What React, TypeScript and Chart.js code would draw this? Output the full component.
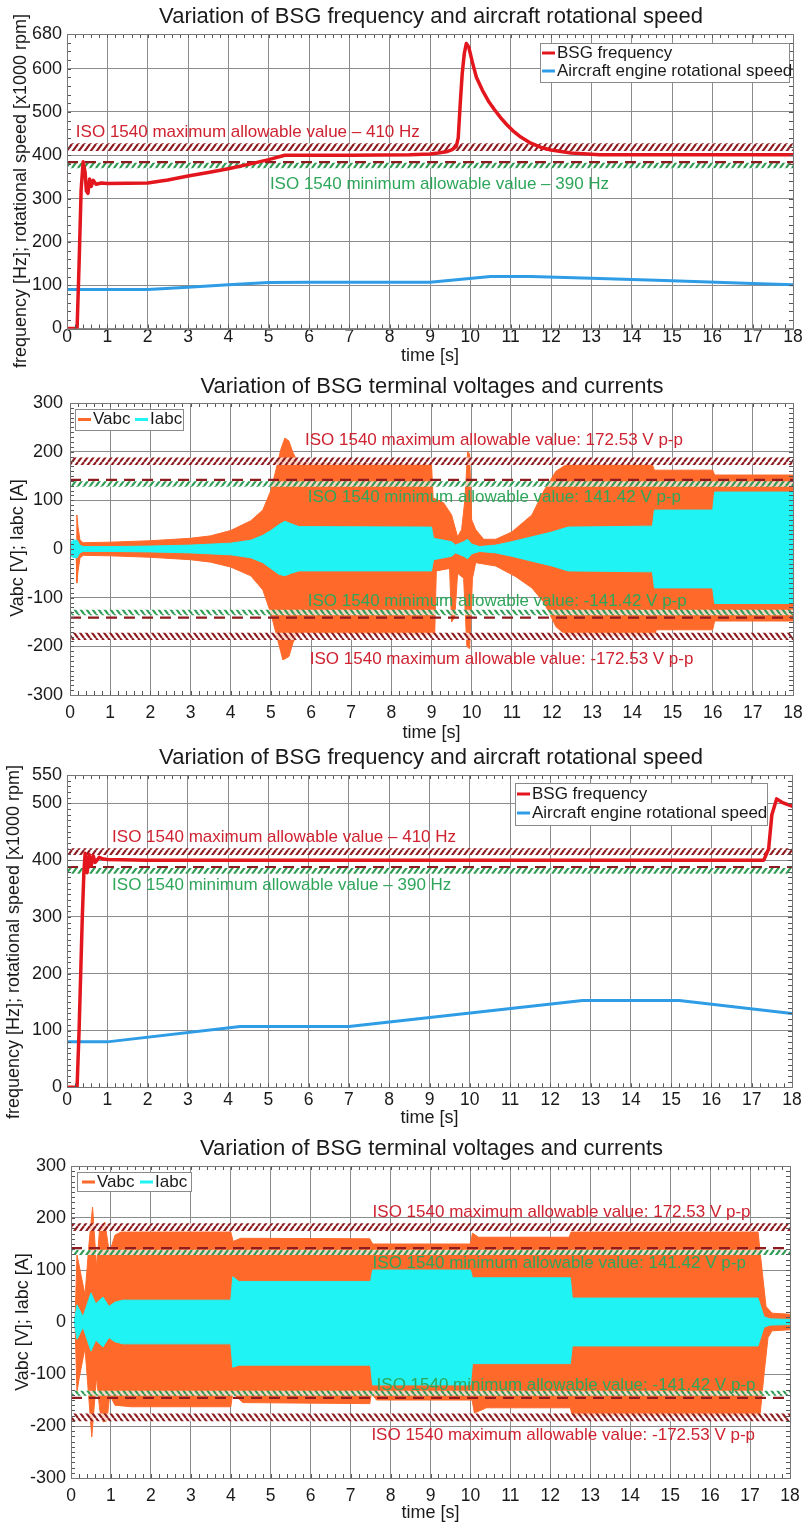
import React, { useEffect, useRef } from "react";
import { Chart, registerables } from "chart.js";

Chart.register(...registerables);

const FONT = '"Liberation Sans", Arial, Helvetica, sans-serif';
Chart.defaults.font.family = FONT;

// ---------- colours ----------
const RED = "#e4161d";
const BLUE = "#2e9de6";
const ORANGE = "#ff6a2b";
const CYAN = "#1ff3f3";
const DARK_RED = "#8e1b1f";
const HATCH_GREEN = "#2f9c55";
const NOTE_RED = "#cf2230";
const NOTE_GREEN = "#2ea65a";
const GRID = "#8c8c8c";
const TEXT = "#1a1a1a";

// ---------- shared text / axes ----------
const TIME_MIN = 0;
const TIME_MAX = 18;
const TIME_LABEL = "time [s]";
const TITLE_FREQ = "Variation of BSG frequency and aircraft rotational speed";
const TITLE_VOLT = "Variation of BSG terminal voltages and currents";
const YLABEL_FREQ = "frequency [Hz]; rotational speed [x1000 rpm]";
const YLABEL_VOLT = "Vabc [V]; Iabc [A]";
const LEGEND_FREQ = ["BSG frequency", "Aircraft engine rotational speed"];
const LEGEND_VOLT = ["Vabc", "Iabc"];
const NOTE_MAX_FREQ = "ISO 1540 maximum allowable value \u2013 410 Hz";
const NOTE_MIN_FREQ = "ISO 1540 minimum allowable value \u2013 390 Hz";
const NOTE_MAX_V = "ISO 1540 maximum allowable value: 172.53 V p-p";
const NOTE_MIN_V = "ISO 1540 minimum allowable value: 141.42 V p-p";
const NOTE_NEG_MIN_V = "ISO 1540 minimum allowable value: -141.42 V p-p";
const NOTE_NEG_MAX_V = "ISO 1540 maximum allowable value: -172.53 V p-p";
const Y_TICKS_VOLT = [-300, -200, -100, 0, 100, 200, 300];

// ---------- panel 1 : frequency / speed ----------
const p1YTicks = [0, 100, 200, 300, 400, 500, 600, 680];
const p1BsgTime = [0, 0.25, 0.3, 0.35, 0.4, 0.45, 0.48, 0.52, 0.56, 0.6, 0.65, 0.72, 0.85, 1.0, 2.0, 2.5, 3.0, 3.5, 4.0, 4.5, 5.0, 5.4, 7.0, 8.5, 9.0, 9.2, 9.4, 9.55, 9.65, 9.7, 9.75, 9.8, 9.85, 9.9, 9.96, 10.05, 10.15, 10.3, 10.45, 10.6, 10.75, 10.9, 11.05, 11.25, 11.5, 11.75, 12.0, 12.5, 13.2, 18];
const p1BsgFreq = [0, 0, 150, 320, 385, 360, 318, 312, 345, 328, 342, 333, 336, 335, 336, 343, 352, 360, 369, 379, 390, 400, 400, 401, 403, 405, 408, 413, 420, 440, 520, 590, 635, 658, 650, 615, 580, 550, 525, 505, 487, 471, 457, 442, 428, 418, 412, 405, 401, 401];
const p1EngTime = [0, 2, 3, 4, 5, 6, 9, 10.5, 11.5, 13, 15, 17, 18];
const p1EngSpeed = [90, 90, 95, 101, 106, 107, 107, 120, 120, 116, 110, 104, 101];
const p1MaxBand = [410, 428];
const p1MinLine = 384;
const p1MinBand = [370, 383];

// ---------- panel 2 : voltages / currents ----------
const p2VUpTime = [0.15, 0.17, 0.2, 0.25, 0.33, 1, 2, 3, 3.5, 4, 4.5, 4.8, 5.0, 5.15, 5.25, 5.35, 5.45, 5.55, 5.65, 5.8, 9.0, 9.04, 9.3, 9.5, 9.65, 9.75, 9.83, 9.9, 9.95, 10.0, 10.1, 10.3, 10.6, 11.0, 11.5, 11.8, 12.1, 12.35, 14.5, 14.55, 16.0, 16.05, 18];
const p2VUp = [0, 70, 45, 18, 13, 14, 17, 22, 27, 38, 58, 80, 120, 170, 205, 228, 222, 198, 182, 177, 174, 105, 95, 70, 25, 40, 100, 200, 195, 60, 40, 20, 20, 35, 70, 120, 160, 173, 173, 162, 162, 152, 152];
const p2VLoTime = [0.15, 0.17, 0.2, 0.25, 0.33, 1, 2, 3, 3.5, 4, 4.5, 4.8, 5.0, 5.15, 5.3, 5.45, 5.55, 5.65, 5.8, 9.0, 9.08, 9.12, 9.45, 9.5, 9.58, 9.65, 9.8, 9.88, 9.95, 10.02, 10.1, 10.6, 11.1, 11.5, 11.8, 12.1, 12.35, 14.55, 14.6, 16.0, 16.05, 18];
const p2VLo = [0, -70, -45, -18, -13, -14, -17, -22, -27, -37, -55, -84, -132, -180, -228, -221, -193, -175, -172, -176, -176, -45, -40, -150, -140, -50, -60, -200, -205, -60, -28, -35, -57, -80, -110, -160, -177, -177, -166, -166, -148, -148];
const p2ITime = [0, 0.03, 0.1, 0.18, 0.24, 0.33, 1, 2, 3, 4, 4.5, 4.8, 5.0, 5.2, 5.35, 5.5, 5.7, 9.0, 9.05, 9.5, 9.6, 9.8, 9.9, 10.0, 10.2, 10.6, 11, 11.5, 12, 12.4, 14.5, 14.55, 16.0, 16.05, 18];
const p2IUp = [0, 15, 18, 18, 8, 5, 5, 6, 8, 12, 18, 28, 38, 50, 57, 52, 46, 45, 22, 15, 8, 15, 20, 10, 5, 8, 15, 25, 35, 45, 47, 80, 80, 117, 117];
const p2ILo = [0, -15, -18, -18, -8, -5, -5, -6, -8, -12, -18, -28, -40, -52, -55, -50, -45, -45, -22, -15, -8, -15, -20, -10, -5, -8, -15, -25, -35, -45, -47, -80, -80, -112, -112];
const p2MaxBand = [172.5, 188];
const p2MinLine = 142;
const p2MinBand = [128, 139];
const p2NegMinBand = [-136, -125];
const p2NegMinLine = -141;
const p2NegMaxBand = [-187, -172];

// ---------- panel 3 : frequency / speed ----------
const p3YTicks = [0, 100, 200, 300, 400, 500, 550];
const p3BsgTime = [0, 0.25, 0.3, 0.38, 0.42, 0.45, 0.5, 0.55, 0.6, 0.65, 0.7, 0.8, 0.9, 1.0, 2.0, 17.3, 17.42, 17.5, 17.62, 17.75, 18];
const p3BsgFreq = [0, 0, 100, 300, 380, 412, 378, 410, 390, 408, 396, 405, 402, 401, 400, 400, 420, 480, 508, 502, 495];
const p3EngTime = [0, 1, 4.3, 7, 12.8, 15.2, 18];
const p3EngSpeed = [80, 80, 107, 107, 153, 153, 130];
const p3MaxBand = [409, 421];
const p3MinLine = 388;
const p3MinBand = [376, 386];

// ---------- panel 4 : voltages / currents ----------
const p4VUpTime = [0.1, 0.15, 0.2, 0.35, 0.45, 0.54, 0.64, 0.72, 0.85, 0.96, 1.1, 1.25, 4.0, 4.06, 4.25, 7.48, 7.55, 10.0, 10.05, 10.2, 12.47, 12.52, 17.2, 17.3, 17.4, 17.55, 18];
const p4VUp = [0, 129, 110, 52, 150, 221, 106, 183, 192, 132, 167, 173, 173, 155, 161, 160, 150, 150, 171, 163, 163, 173, 173, 100, 30, 17, 15];
const p4VLoTime = [0.1, 0.15, 0.2, 0.35, 0.45, 0.52, 0.64, 0.72, 0.8, 0.9, 0.97, 1.1, 1.5, 4.0, 4.05, 4.3, 7.48, 7.52, 7.65, 10.04, 10.1, 10.4, 12.5, 12.55, 17.25, 17.35, 17.45, 17.55, 18];
const p4VLo = [0, -135, -110, -50, -150, -221, -105, -170, -192, -190, -140, -160, -163, -163, -137, -155, -157, -137, -150, -150, -175, -165, -165, -180, -180, -100, -30, -17, -15];
const p4ITime = [0.08, 0.15, 0.3, 0.5, 0.62, 0.8, 0.95, 1.1, 1.3, 4.0, 4.05, 4.2, 7.5, 7.55, 10.0, 10.05, 12.5, 12.55, 17.2, 17.35, 17.5, 18];
const p4IUp = [0, 33, 10, 56, 35, 48, 30, 38, 42, 42, 87, 78, 78, 100, 100, 85, 85, 46, 46, 10, 6, 5];
const p4ILo = [0, -33, -10, -56, -35, -48, -30, -38, -42, -42, -87, -83, -83, -121, -121, -80, -80, -46, -46, -10, -6, -5];
const p4MaxBand = [175, 190];
const p4MinLine = 142;
const p4MinBand = [129, 139];
const p4NegMinBand = [-142, -132];
const p4NegMinLine = -146;
const p4NegMaxBand = [-191, -176];

// ---------- helpers ----------
const pts = (xs: number[], ys: number[]) => xs.map((x, i) => ({ x, y: ys[i] }));
const hl = (v: number) => [{ x: TIME_MIN, y: v }, { x: TIME_MAX, y: v }];

function hatch(color: string, dir: number) {
  const w = 6, h = 8;
  const c = document.createElement("canvas");
  c.width = w; c.height = h;
  const g = c.getContext("2d") as CanvasRenderingContext2D;
  g.fillStyle = "rgba(255,255,255,0.72)";
  g.fillRect(0, 0, w, h);
  g.strokeStyle = color;
  g.lineWidth = 2.2;
  g.beginPath();
  for (const off of [-w, 0, w]) {
    if (dir > 0) { g.moveTo(off, h); g.lineTo(off + w, 0); }
    else { g.moveTo(off, 0); g.lineTo(off + w, h); }
  }
  g.stroke();
  return g.createPattern(c, "repeat");
}

function makePatterns() {
  return {
    redUp: hatch(DARK_RED, 1),
    greenUp: hatch(HATCH_GREEN, 1),
    redDown: hatch(DARK_RED, -1),
    greenDown: hatch(HATCH_GREEN, -1),
  };
}

const dashed = (v: number) => ({ data: hl(v), borderColor: DARK_RED, borderWidth: 2.2, borderDash: [11, 7], borderCapStyle: "butt", fill: false });
const bandPair = (band: number[], pattern: any) => [
  { data: hl(band[1]), borderWidth: 0, backgroundColor: pattern, fill: "+1" },
  { data: hl(band[0]), borderWidth: 0, fill: false },
];
const envPair = (tu: number[], vu: number[], tl: number[], vl: number[], color: string, label: string) => [
  { label, data: pts(tu, vu), borderColor: color, borderWidth: 1, backgroundColor: color, fill: "+1" },
  { data: pts(tl, vl), borderColor: color, borderWidth: 1, fill: false },
];

function makeDecor(d: any) {
  return {
    id: "decor",
    afterDatasetsDraw(chart: any) {
      const { ctx, chartArea: a, scales } = chart;
      const xs = scales.x, ys = scales.y;
      ctx.save();
      // minor ticks
      ctx.strokeStyle = "#555";
      ctx.lineWidth = 1;
      ctx.beginPath();
      const nx = Math.round((TIME_MAX - TIME_MIN) / d.minorX);
      for (let i = 0; i <= nx; i++) {
        const px = Math.round(xs.getPixelForValue(TIME_MIN + i * d.minorX)) + 0.5;
        ctx.moveTo(px, a.bottom); ctx.lineTo(px, a.bottom - 4);
        ctx.moveTo(px, a.top); ctx.lineTo(px, a.top + 4);
      }
      const ny = Math.round((ys.max - ys.min) / d.minorY);
      for (let i = 0; i <= ny; i++) {
        const py = Math.round(ys.getPixelForValue(ys.min + i * d.minorY)) + 0.5;
        ctx.moveTo(a.left, py); ctx.lineTo(a.left + 4, py);
        ctx.moveTo(a.right, py); ctx.lineTo(a.right - 4, py);
      }
      ctx.stroke();
      // frame
      ctx.strokeStyle = "#777";
      ctx.strokeRect(Math.round(a.left) + 0.5, Math.round(a.top) + 0.5, Math.round(a.right - a.left), Math.round(a.bottom - a.top));
      // notes
      ctx.textBaseline = "middle";
      ctx.textAlign = "left";
      ctx.font = `17px ${FONT}`;
      for (const n of d.notes) {
        ctx.fillStyle = n.color;
        ctx.fillText(n.text, xs.getPixelForValue(n.t), ys.getPixelForValue(n.v));
      }
      // legend
      const L = d.legend;
      ctx.fillStyle = "#fff";
      ctx.fillRect(L.x, L.y, L.w, L.h);
      ctx.strokeStyle = "#8a8a8a";
      ctx.lineWidth = 1;
      ctx.strokeRect(L.x + 0.5, L.y + 0.5, L.w, L.h);
      for (const it of L.items) {
        ctx.strokeStyle = it.color;
        ctx.lineWidth = 3;
        ctx.beginPath();
        ctx.moveTo(it.x, it.y);
        ctx.lineTo(it.x + 13, it.y);
        ctx.stroke();
        ctx.fillStyle = TEXT;
        ctx.fillText(it.label, it.x + 15, it.y);
      }
      ctx.restore();
    },
    afterDraw(chart: any) {
      const { ctx } = chart;
      ctx.save();
      ctx.fillStyle = TEXT;
      ctx.textBaseline = "middle";
      ctx.textAlign = "center";
      ctx.font = `22px ${FONT}`;
      ctx.fillText(d.title.text, d.title.x, d.title.y);
      ctx.translate(d.yTitle.x, d.yTitle.y);
      ctx.rotate(-Math.PI / 2);
      ctx.font = `18px ${FONT}`;
      ctx.fillText(d.yTitle.text, 0, 0);
      ctx.restore();
    },
  };
}

function makeOptions(p: any) {
  return {
    responsive: false,
    maintainAspectRatio: false,
    animation: false,
    devicePixelRatio: 1,
    events: [],
    layout: { padding: { left: 0, right: p.padR, top: p.padT, bottom: p.padB } },
    elements: {
      point: { radius: 0, hoverRadius: 0 },
      line: { tension: 0, borderCapStyle: "round", borderJoinStyle: "round" },
    },
    plugins: { legend: { display: false }, title: { display: false }, tooltip: { enabled: false } },
    scales: {
      x: {
        type: "linear",
        min: TIME_MIN,
        max: TIME_MAX,
        ticks: { stepSize: 1, autoSkip: false, maxRotation: 0, padding: 0, color: TEXT, font: { family: FONT, size: 17.5, lineHeight: 1 } },
        grid: { color: GRID, lineWidth: 1, drawTicks: p.xTick > 0, tickLength: p.xTick, tickColor: "rgba(0,0,0,0)" },
        border: { display: false },
        title: { display: true, text: TIME_LABEL, color: TEXT, font: { family: FONT, size: 18, lineHeight: 1.2 }, padding: 0 },
        afterFit: (s: any) => { s.height = p.xH; },
      },
      y: {
        type: "linear",
        min: p.yMin,
        max: p.yMax,
        afterBuildTicks: (s: any) => { s.ticks = p.yTicks.map((v: number) => ({ value: v })); },
        ticks: { padding: p.yPad, color: TEXT, font: { family: FONT, size: 18, lineHeight: 1 } },
        grid: { color: GRID, lineWidth: 1, drawTicks: false },
        border: { display: false },
        afterFit: (s: any) => { s.width = p.yW; },
      },
    },
  };
}

// ---------- panel builders ----------
const L1 = { top: 0, height: 374, yW: 67, padR: 10, padT: 34, padB: 7.2, xH: 38.3, xTick: 0, yPad: 5, yMin: 0, yMax: 680, yTicks: p1YTicks };
const L2 = { top: 374, height: 372, yW: 70, padR: 10, padT: 29, padB: 2.2, xH: 48.8, xTick: 9.25, yPad: 7, yMin: -300, yMax: 300, yTicks: Y_TICKS_VOLT };
const L3 = { top: 746, height: 384, yW: 67, padR: 11, padT: 29, padB: 1.2, xH: 41.5, xTick: 4, yPad: 5, yMin: 0, yMax: 550, yTicks: p3YTicks };
const L4 = { top: 1130, height: 394, yW: 71, padR: 13, padT: 36, padB: 0, xH: 46, xTick: 9.25, yPad: 5, yMin: -300, yMax: 300, yTicks: Y_TICKS_VOLT };

function buildFreq(pat: any, L: any, d: any) {
  return {
    type: "line",
    data: {
      datasets: [
        { label: LEGEND_FREQ[0], data: pts(d.bsgT, d.bsgV), borderColor: RED, borderWidth: 3.5, fill: false },
        { label: LEGEND_FREQ[1], data: pts(d.engT, d.engV), borderColor: BLUE, borderWidth: 3, fill: false },
        dashed(d.minLine),
        ...bandPair(d.maxBand, pat.redUp),
        ...bandPair(d.minBand, pat.greenUp),
      ],
    },
    options: makeOptions(L),
    plugins: [makeDecor(d.decor)],
  };
}

function buildVolt(pat: any, L: any, d: any) {
  return {
    type: "line",
    data: {
      datasets: [
        dashed(d.minLine),
        dashed(d.negMinLine),
        ...bandPair(d.maxBand, pat.redUp),
        ...bandPair(d.minBand, pat.greenUp),
        ...bandPair(d.negMinBand, pat.greenDown),
        ...bandPair(d.negMaxBand, pat.redDown),
        ...envPair(d.iT, d.iUp, d.iT, d.iLo, CYAN, LEGEND_VOLT[1]),
        ...envPair(d.vUpT, d.vUp, d.vLoT, d.vLo, ORANGE, LEGEND_VOLT[0]),
      ],
    },
    options: makeOptions(L),
    plugins: [makeDecor(d.decor)],
  };
}

const build1 = (pat: any) => buildFreq(pat, L1, {
  bsgT: p1BsgTime, bsgV: p1BsgFreq, engT: p1EngTime, engV: p1EngSpeed,
  maxBand: p1MaxBand, minLine: p1MinLine, minBand: p1MinBand,
  decor: {
    title: { text: TITLE_FREQ, x: 431, y: 17 },
    yTitle: { text: YLABEL_FREQ, x: 21, y: 191 },
    minorX: 0.2, minorY: 20,
    notes: [
      { text: NOTE_MAX_FREQ, color: NOTE_RED, t: 0.22, v: 453 },
      { text: NOTE_MIN_FREQ, color: NOTE_GREEN, t: 5.03, v: 333 },
    ],
    legend: { x: 540, y: 43, w: 249, h: 39, items: [
      { label: LEGEND_FREQ[0], color: RED, x: 542, y: 53 },
      { label: LEGEND_FREQ[1], color: BLUE, x: 542, y: 71 },
    ] },
  },
});

const build2 = (pat: any) => buildVolt(pat, L2, {
  vUpT: p2VUpTime, vUp: p2VUp, vLoT: p2VLoTime, vLo: p2VLo, iT: p2ITime, iUp: p2IUp, iLo: p2ILo,
  maxBand: p2MaxBand, minLine: p2MinLine, minBand: p2MinBand,
  negMinBand: p2NegMinBand, negMinLine: p2NegMinLine, negMaxBand: p2NegMaxBand,
  decor: {
    title: { text: TITLE_VOLT, x: 432, y: 12.5 },
    yTitle: { text: YLABEL_VOLT, x: 18, y: 174 },
    minorX: 0.2, minorY: 10,
    notes: [
      { text: NOTE_MAX_V, color: NOTE_RED, t: 5.85, v: 224 },
      { text: NOTE_MIN_V, color: NOTE_GREEN, t: 5.92, v: 107 },
      { text: NOTE_NEG_MIN_V, color: NOTE_GREEN, t: 5.92, v: -107 },
      { text: NOTE_NEG_MAX_V, color: NOTE_RED, t: 5.97, v: -226 },
    ],
    legend: { x: 75, y: 35, w: 108, h: 21, items: [
      { label: LEGEND_VOLT[0], color: ORANGE, x: 78, y: 45.5 },
      { label: LEGEND_VOLT[1], color: CYAN, x: 135, y: 45.5 },
    ] },
  },
});

const build3 = (pat: any) => buildFreq(pat, L3, {
  bsgT: p3BsgTime, bsgV: p3BsgFreq, engT: p3EngTime, engV: p3EngSpeed,
  maxBand: p3MaxBand, minLine: p3MinLine, minBand: p3MinBand,
  decor: {
    title: { text: TITLE_FREQ, x: 431, y: 12 },
    yTitle: { text: YLABEL_FREQ, x: 14.5, y: 196 },
    minorX: 0.2, minorY: 10,
    notes: [
      { text: NOTE_MAX_FREQ, color: NOTE_RED, t: 1.12, v: 441 },
      { text: NOTE_MIN_FREQ, color: NOTE_GREEN, t: 1.12, v: 355 },
    ],
    legend: { x: 515, y: 37, w: 252, h: 42, items: [
      { label: LEGEND_FREQ[0], color: RED, x: 517, y: 48 },
      { label: LEGEND_FREQ[1], color: BLUE, x: 517, y: 67 },
    ] },
  },
});

const build4 = (pat: any) => buildVolt(pat, L4, {
  vUpT: p4VUpTime, vUp: p4VUp, vLoT: p4VLoTime, vLo: p4VLo, iT: p4ITime, iUp: p4IUp, iLo: p4ILo,
  maxBand: p4MaxBand, minLine: p4MinLine, minBand: p4MinBand,
  negMinBand: p4NegMinBand, negMinLine: p4NegMinLine, negMaxBand: p4NegMaxBand,
  decor: {
    title: { text: TITLE_VOLT, x: 431.5, y: 18.5 },
    yTitle: { text: YLABEL_VOLT, x: 23, y: 192 },
    minorX: 0.2, minorY: 10,
    notes: [
      { text: NOTE_MAX_V, color: NOTE_RED, t: 7.55, v: 210 },
      { text: NOTE_MIN_V, color: NOTE_GREEN, t: 7.55, v: 113 },
      { text: NOTE_NEG_MIN_V, color: NOTE_GREEN, t: 7.65, v: -121 },
      { text: NOTE_NEG_MAX_V, color: NOTE_RED, t: 7.52, v: -217 },
    ],
    legend: { x: 77, y: 42, w: 114, h: 19, items: [
      { label: LEGEND_VOLT[0], color: ORANGE, x: 82, y: 52 },
      { label: LEGEND_VOLT[1], color: CYAN, x: 140, y: 52 },
    ] },
  },
});

function Panel({ build, layout }: any) {
  const ref = useRef<HTMLCanvasElement>(null);
  useEffect(() => {
    const canvas = ref.current as HTMLCanvasElement;
    const chart = new Chart(canvas, build(makePatterns()) as any);
    return () => chart.destroy();
  }, []);
  return (
    <canvas
      ref={ref}
      width={803}
      height={layout.height}
      style={{ position: "absolute", left: 0, top: layout.top, width: 803, height: layout.height }}
    />
  );
}

export default function App() {
  return (
    <div style={{ position: "absolute", left: 0, top: 0, width: 803, height: 1524, background: "#fff", overflow: "hidden" }}>
      <Panel build={build1} layout={L1} />
      <Panel build={build2} layout={L2} />
      <Panel build={build3} layout={L3} />
      <Panel build={build4} layout={L4} />
    </div>
  );
}
